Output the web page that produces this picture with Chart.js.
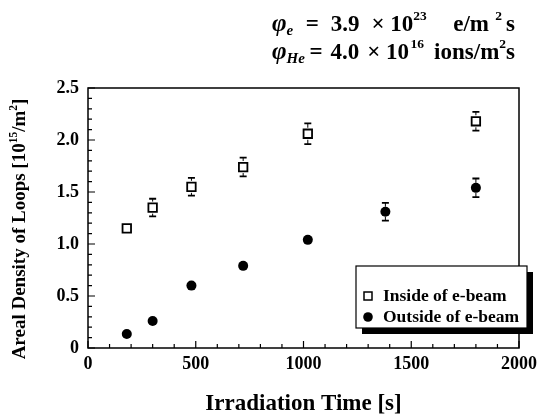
<!DOCTYPE html>
<html><head><meta charset="utf-8">
<script src="https://cdn.jsdelivr.net/npm/chart.js@4/dist/chart.umd.min.js"></script>
<style>html,body{margin:0;padding:0;background:#fff}#wrap{width:543px;height:414px}</style>
</head><body><div id="wrap"><canvas id="c" width="543" height="414"></canvas></div>
<script>
const timeInside = [180, 300, 480, 720, 1020, 1800];
const densityInside = [1.15, 1.35, 1.55, 1.74, 2.06, 2.18];
const errInside = [0, 0.085, 0.085, 0.09, 0.1, 0.09];
const timeOutside = [180, 300, 480, 720, 1020, 1380, 1800];
const densityOutside = [0.135, 0.26, 0.60, 0.79, 1.04, 1.31, 1.54];
const errOutside = [0, 0, 0, 0, 0, 0.085, 0.09];
const xTicks = [0, 500, 1000, 1500, 2000];
const yTicks = [0, 0.5, 1.0, 1.5, 2.0, 2.5];
const legendLabels = ['Inside of e-beam', 'Outside of e-beam'];
const xTitle = 'Irradiation Time [s]';

const SERIF = "'Liberation Serif','Times New Roman',serif";

function font(size, italic) {
  return (italic ? 'italic ' : '') + 'bold ' + size + 'px ' + SERIF;
}
function drawFit(ctx, parts, x0, x1, y) {
  let nat = 0, wsum = 0;
  for (const p of parts) { ctx.font = font(p.size, p.italic); p.mw = ctx.measureText(p.t).width; nat += p.mw; wsum += (p.w || 0); }
  const extra = Math.max(0, (x1 - x0) - nat);
  let cx = x0;
  for (const p of parts) {
    ctx.font = font(p.size, p.italic);
    ctx.fillText(p.t, cx, y + (p.dy || 0));
    cx += p.mw + (wsum ? extra * (p.w || 0) / wsum : 0);
  }
}
function drawRich(ctx, parts, x, y) {
  let cx = x;
  for (const p of parts) {
    ctx.font = font(p.size, p.italic);
    ctx.fillText(p.t, cx, y + (p.dy || 0));
    cx += ctx.measureText(p.t).width;
  }
}

const deco = {
  id: 'deco',
  afterDatasetsDraw(chart) {
    const ctx = chart.ctx, xs = chart.scales.x, ys = chart.scales.y;
    ctx.save();
    ctx.strokeStyle = '#000';
    const sets = [[timeInside, densityInside, errInside, 6], [timeOutside, densityOutside, errOutside, 5]];
    for (const [tx, ty, te, r] of sets) {
      for (let i = 0; i < tx.length; i++) {
        if (!te[i]) continue;
        const px = xs.getPixelForValue(tx[i]);
        const py = ys.getPixelForValue(ty[i]);
        const top = ys.getPixelForValue(ty[i] + te[i]);
        const bot = ys.getPixelForValue(ty[i] - te[i]);
        ctx.lineWidth = 1;
        ctx.beginPath();
        ctx.moveTo(px, py - r); ctx.lineTo(px, top);
        ctx.moveTo(px, py + r); ctx.lineTo(px, bot);
        ctx.stroke();
        ctx.lineWidth = 1.8;
        ctx.beginPath();
        ctx.moveTo(px - 3.5, top); ctx.lineTo(px + 3.5, top);
        ctx.moveTo(px - 3.5, bot); ctx.lineTo(px + 3.5, bot);
        ctx.stroke();
      }
    }
    ctx.restore();
  },
  afterDraw(chart) {
    const ctx = chart.ctx, a = chart.chartArea, xs = chart.scales.x, ys = chart.scales.y;
    ctx.save();
    ctx.strokeStyle = '#000';
    ctx.fillStyle = '#000';
    ctx.lineWidth = 1.5;
    ctx.strokeRect(a.left, a.top, a.right - a.left, a.bottom - a.top);
    ctx.lineWidth = 1.2;
    ctx.beginPath();
    for (let v = 0; v <= 2000; v += 100) {
      const px = xs.getPixelForValue(v);
      const len = v % 500 === 0 ? 7 : 4;
      ctx.moveTo(px, a.bottom); ctx.lineTo(px, a.bottom - len);
    }
    for (let k = 0; k <= 25; k++) {
      const py = ys.getPixelForValue(k / 10);
      const len = k % 5 === 0 ? 7 : 4;
      ctx.moveTo(a.left, py); ctx.lineTo(a.left + len, py);
    }
    ctx.stroke();

    // legend with shadow
    const lx = 356, ly = 266, lw = 171, lh = 62;
    ctx.fillStyle = '#000';
    ctx.fillRect(lx + 6, ly + 6, lw, lh);
    ctx.fillStyle = '#fff';
    ctx.fillRect(lx, ly, lw, lh);
    ctx.lineWidth = 1.2;
    ctx.strokeRect(lx, ly, lw, lh);
    ctx.lineWidth = 1.5;
    ctx.strokeRect(364, 292, 8, 8);
    ctx.fillStyle = '#000';
    ctx.beginPath(); ctx.arc(368, 317, 4.8, 0, Math.PI * 2); ctx.fill();
    ctx.font = font(17.5);
    ctx.textBaseline = 'middle';
    ctx.fillText(legendLabels[0], 383, 296);
    ctx.fillText(legendLabels[1], 383, 317);

    // header
    ctx.textBaseline = 'alphabetic';
    drawFit(ctx, [
      {t: 'φ', size: 25, italic: true},
      {t: 'e', size: 15, italic: true, dy: 4, w: 0.6},
      {t: '= ', size: 23, w: 0.3},
      {t: '3.9 ', size: 23, w: 0.3},
      {t: '× ', size: 23},
      {t: '10', size: 23},
      {t: '23', size: 13.5, dy: -11, w: 1},
      {t: ' e/m', size: 23, w: 0.3},
      {t: '2', size: 13.5, dy: -11, w: 0.2},
      {t: 's', size: 23}
    ], 272, 515, 31);
    drawFit(ctx, [
      {t: 'φ', size: 25, italic: true},
      {t: 'He', size: 15, italic: true, dy: 4, w: 1},
      {t: '= ', size: 23, w: 0.5},
      {t: '4.0 ', size: 23, w: 0.5},
      {t: '× ', size: 23},
      {t: '10', size: 23, w: 0.3},
      {t: '16', size: 13.5, dy: -11, w: 1},
      {t: ' ions/m', size: 23},
      {t: '2', size: 13.5, dy: -11},
      {t: 's', size: 23}
    ], 272, 515, 59);

    // y title rotated
    ctx.save();
    ctx.translate(25, 229);
    ctx.rotate(-Math.PI / 2);
    const parts = [
      {t: 'Areal Density of Loops [10', size: 19},
      {t: '15', size: 11.5, dy: -8},
      {t: '/m', size: 19},
      {t: '2', size: 11.5, dy: -8},
      {t: ']', size: 19}
    ];
    let w = 0;
    for (const p of parts) { ctx.font = font(p.size); w += ctx.measureText(p.t).width; }
    drawRich(ctx, parts, -w / 2, 0);
    ctx.restore();
    ctx.restore();
  }
};

const tickFont = {family: SERIF, size: 18, weight: 'bold'};

new Chart(document.getElementById('c'), {
  type: 'scatter',
  data: {
    datasets: [
      {
        label: legendLabels[0],
        data: timeInside.map((t, i) => ({x: t, y: densityInside[i]})),
        pointStyle: 'rect', pointRadius: 6, pointBackgroundColor: '#fff',
        pointBorderColor: '#000', pointBorderWidth: 1.8, showLine: false
      },
      {
        label: legendLabels[1],
        data: timeOutside.map((t, i) => ({x: t, y: densityOutside[i]})),
        pointStyle: 'circle', pointRadius: 5, pointBackgroundColor: '#000',
        pointBorderColor: '#000', pointBorderWidth: 0, showLine: false
      }
    ]
  },
  options: {
    responsive: false,
    animation: false,
    devicePixelRatio: 1,
    layout: {padding: {top: 88, right: 21, left: 0, bottom: 0}},
    plugins: {legend: {display: false}, tooltip: {enabled: false}},
    scales: {
      x: {
        type: 'linear', min: 0, max: 2000,
        afterBuildTicks: s => { s.ticks = xTicks.map(v => ({value: v})); },
        afterFit: s => { s.height = 66; },
        grid: {display: false, drawTicks: false},
        border: {display: false},
        ticks: {font: tickFont, color: '#000', padding: 6, maxRotation: 0,
          callback: v => String(v)},
        title: {display: true, text: xTitle, color: '#000',
          font: {family: SERIF, size: 23, weight: 'bold'}, padding: {top: 0, bottom: -4}}
      },
      y: {
        min: 0, max: 2.5,
        afterBuildTicks: s => { s.ticks = yTicks.map(v => ({value: v})); },
        afterFit: s => { s.width = 88; },
        grid: {display: false, drawTicks: false},
        border: {display: false},
        ticks: {font: tickFont, color: '#000', padding: 9,
          callback: v => v === 0 ? '0' : Number(v).toFixed(1)}
      }
    }
  },
  plugins: [deco]
});
</script>
</body></html>
